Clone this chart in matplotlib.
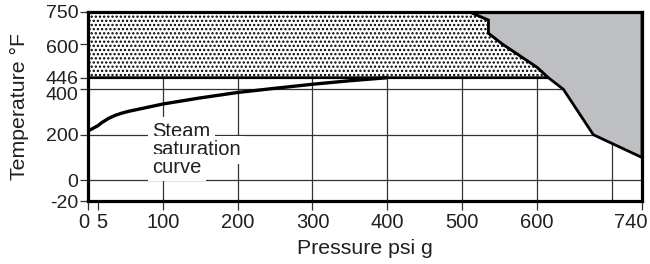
import numpy as np
import matplotlib
matplotlib.use("Agg")
import matplotlib.pyplot as plt
from matplotlib.patches import Polygon
import matplotlib.transforms as mtransforms

plt.rcParams['font.family'] = ['Liberation Sans', 'DejaVu Sans']
plt.rcParams['hatch.linewidth'] = 1.1

# ---------------- data ----------------
# steam saturation curve (psig -> deg F), as drawn
sat_pressure = [0, 5, 10, 20, 30, 40, 50, 75, 100, 150, 200, 250, 300, 350, 400]
sat_temp = [216, 240, 252, 271, 285, 295, 303, 319, 335, 362, 386, 404, 420, 434, 446]

# boundary of the grey region, pressure / temperature
limit_pressure = [510, 535, 535, 553, 600, 615, 635, 675, 740]
limit_temp = [750, 712, 650, 600, 493, 446, 400, 200, 100]

# dotted region: between 446 F and 750 F, left of the limit curve
dot_low_temp = 446
top_temp = 750

x_ticks = [0, 5, 100, 200, 300, 400, 500, 600, 740]
x_tick_labels = ['0', '5', '100', '200', '300', '400', '500', '600', '740']
y_ticks = [-20, 0, 200, 400, 446, 600, 750]
y_tick_labels = ['-20', '0', '200', '400', '446', '600', '750']
x_grid = [100, 200, 300, 400, 500, 600, 700]
y_grid = [0, 200, 400]

# piecewise axis breakpoints (schematic, non-uniform axes)
x_break_d = [-1000, 0, 5, 100, 740, 2000]
x_break_p = [-2000, 0, 10, 74.7, 554.06, 554.06 + 1260 * 0.749]
y_break_d = [-1000, -20, 0, 200, 400, 446, 600, 750, 2000]
y_break_p = [-1014, 0, 20.7, 66.3, 111.7, 123.3, 157.3, 189, 189 + 1250 * 0.211]


def xf(v):
    return np.interp(v, x_break_d, x_break_p)


def xi(v):
    return np.interp(v, x_break_p, x_break_d)


def yf(v):
    return np.interp(v, y_break_d, y_break_p)


def yi(v):
    return np.interp(v, y_break_p, y_break_d)


W, H = 650, 264
fig = plt.figure(figsize=(W / 100, H / 100), dpi=100)
ax = fig.add_axes([88 / W, (H - 201) / H, (642 - 88) / W, (201 - 12) / H])
ax.set_xscale('function', functions=(xf, xi))
ax.set_yscale('function', functions=(yf, yi))
ax.set_xlim(0, 740)
ax.set_ylim(-20, 750)

# grid lines
ax.vlines(x_grid, -20, 750, colors='#333333', linewidth=0.9, zorder=1)
ax.hlines(y_grid, 0, 740, colors='#333333', linewidth=0.9, zorder=1)

dot_poly = [(0, dot_low_temp)]
for p, t in zip(limit_pressure[::-1], limit_temp[::-1]):
    if t >= dot_low_temp:
        dot_poly.append((p, t))
dot_poly.append((0, top_temp))
dots = Polygon(dot_poly, closed=True, facecolor='white', edgecolor='black',
               hatch='....', linewidth=2.0, zorder=2)
ax.add_patch(dots)

grey_poly = list(zip(limit_pressure, limit_temp)) + [(740, top_temp)]
grey = Polygon(grey_poly, closed=True, facecolor='#bebfc3', edgecolor='black',
               linewidth=2.0, zorder=2.5, joinstyle='miter')
ax.add_patch(grey)

# saturation curve
ax.plot(sat_pressure, sat_temp, color='black', linewidth=2.4, zorder=4,
        solid_capstyle='butt')

# annotation
for txt, yy in [('Steam', 0.340), ('saturation', 0.243), ('curve', 0.148)]:
    ax.text(0.1155, yy, txt, transform=ax.transAxes, fontsize=14.5,
            color='#231f20', va='baseline', ha='left', zorder=3,
            bbox=dict(boxstyle='square,pad=0.22', facecolor='white',
                      edgecolor='none'))

for s in ax.spines.values():
    s.set_linewidth(2.3)
    s.set_color('black')
    s.set_zorder(5)

ax.set_xticks(x_ticks)
ax.set_xticklabels(x_tick_labels)
ax.set_yticks(y_ticks)
ax.set_yticklabels(y_tick_labels)
ax.minorticks_off()
ax.tick_params(axis='x', direction='out', length=6.5, width=0.9,
               color='#333333', labelsize=14.5, labelcolor='#231f20', pad=2)
ax.tick_params(axis='y', direction='out', length=5.5, width=0.9,
               color='#333333', labelsize=14, labelcolor='#231f20', pad=1.5)

# small nudges of crowded tick labels (pixels)
x_nudge = {'0': -4.5, '5': 4.0, '740': -11.0}
for lab in ax.get_xticklabels():
    dx = x_nudge.get(lab.get_text(), 0)
    if dx:
        lab.set_transform(lab.get_transform() +
                          mtransforms.ScaledTranslation(dx / 100, 0, fig.dpi_scale_trans))
y_nudge = {'400': -4.0, '600': -2.5}
for lab in ax.get_yticklabels():
    dy = y_nudge.get(lab.get_text(), 0)
    if dy:
        lab.set_transform(lab.get_transform() +
                          mtransforms.ScaledTranslation(0, dy / 100, fig.dpi_scale_trans))

ax.set_xlabel('Pressure psi g', fontsize=15.3, color='#231f20', labelpad=5)
ax.set_ylabel('Temperature °F', fontsize=15.3, color='#231f20', labelpad=11.5)

fig.savefig('out.png', dpi=100)
